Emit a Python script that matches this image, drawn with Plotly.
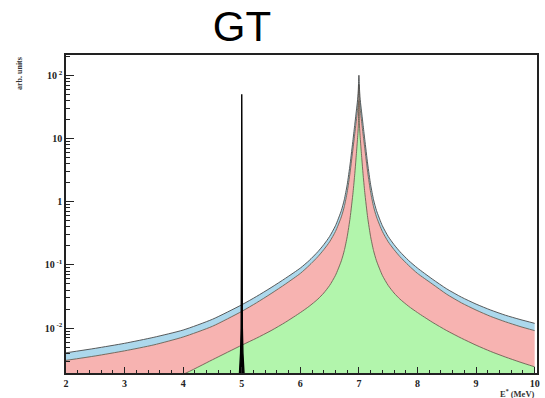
import plotly.graph_objects as go

# ---- data ----
energy = [2.0, 2.5, 3.0, 3.5, 4.0, 4.5, 5.0, 5.25, 5.5, 5.75, 6.0, 6.15, 6.3, 6.4, 6.5, 6.6, 6.7, 6.75, 6.8, 6.85,
          6.9, 6.93, 6.95, 6.97, 6.98, 6.99, 7.0,
          7.01, 7.02, 7.03, 7.05, 7.07, 7.1, 7.15, 7.2, 7.25, 7.3, 7.4, 7.5, 7.6, 7.7, 7.85, 8.0,
          8.25, 8.5, 8.75, 9.0, 9.25, 9.5, 9.75, 10.0]
blue_top = [0.00407, 0.00479, 0.00575, 0.00716, 0.00933, 0.0138, 0.0234, 0.0316, 0.0437, 0.0617, 0.0891, 0.117,
            0.162, 0.209, 0.282, 0.417, 0.724, 1.07, 1.86, 3.94, 9.66, 16.8, 24.3, 35.1, 43.6, 60, 100,
            60, 43.6, 35.1, 24.3, 16.8, 9.66, 3.94, 1.86, 1.07, 0.724, 0.417, 0.282, 0.209, 0.162, 0.117, 0.0891,
            0.06, 0.0417, 0.0309, 0.024, 0.0193, 0.016, 0.0137, 0.0119]
pink_top = [0.00309, 0.00363, 0.00437, 0.00543, 0.00724, 0.0107, 0.0184, 0.0251, 0.0351, 0.0501, 0.0733, 0.0977,
            0.135, 0.174, 0.232, 0.339, 0.575, 0.832, 1.41, 2.92, 7.0, 11.9, 17.2, 24.8, 30.9, 42.7, 70.8,
            42.7, 30.9, 24.8, 17.2, 11.9, 7.0, 2.92, 1.41, 0.832, 0.575, 0.339, 0.232, 0.174, 0.135, 0.0977, 0.0733,
            0.0501, 0.0343, 0.0251, 0.0193, 0.0153, 0.0126, 0.0106, 0.00912]
green_top = [0.0004, 0.0006, 0.00089, 0.00129, 0.00186, 0.00316, 0.00537, 0.00692, 0.00912, 0.01245, 0.0176, 0.0221,
             0.0288, 0.0359, 0.0473, 0.0684, 0.116, 0.168, 0.279, 0.556, 1.40, 2.79, 4.73, 8.22, 11.1, 15.7, 40,
             15.7, 11.1, 8.22, 4.73, 2.79, 1.40, 0.556, 0.279, 0.168, 0.116, 0.0684, 0.0473, 0.0359, 0.0288, 0.0221,
             0.0176, 0.01245, 0.00912, 0.00692, 0.00537, 0.00427, 0.00349, 0.0029, 0.00244]
baseline = [0.0001] * len(energy)

spike_e = [4.955, 4.97, 4.98, 4.99, 4.995, 4.998, 5.0, 5.002, 5.005, 5.01, 5.02, 5.03, 5.045]
spike_v = [0.0015, 0.0025, 0.004, 0.01, 0.05, 0.5, 50, 0.5, 0.05, 0.01, 0.004, 0.0025, 0.0015]
spike_base = [0.0001] * len(spike_e)

x_ticks = [2, 3, 4, 5, 6, 7, 8, 9, 10]
y_tickvals = [0.01, 0.1, 1, 10, 100]
y_ticktext = ["10<sup> -2</sup>", "10<sup> -1</sup>", "1", "10", "10<sup> 2</sup>"]

edge = "#5a5040"
smooth = 0.6
fig = go.Figure()
fig.add_trace(go.Scatter(x=energy, y=baseline, mode="lines", line=dict(width=0), showlegend=False, hoverinfo="skip"))
fig.add_trace(go.Scatter(x=energy, y=green_top, mode="lines", fill="tonexty", fillcolor="#b2f5ac",
                         line=dict(color=edge, width=0.8, shape="spline", smoothing=smooth), showlegend=False))
fig.add_trace(go.Scatter(x=energy, y=pink_top, mode="lines", fill="tonexty", fillcolor="#f7b3b1",
                         line=dict(color=edge, width=0.8, shape="spline", smoothing=smooth), showlegend=False))
fig.add_trace(go.Scatter(x=energy, y=blue_top, mode="lines", fill="tonexty", fillcolor="#acd8ec",
                         line=dict(color="#4a4a4a", width=0.9, shape="spline", smoothing=smooth), showlegend=False))
fig.add_trace(go.Scatter(x=spike_e, y=spike_base, mode="lines", line=dict(width=0), showlegend=False, hoverinfo="skip"))
fig.add_trace(go.Scatter(x=spike_e, y=spike_v, mode="lines", fill="tonexty", fillcolor="black",
                         line=dict(color="black", width=1.4), showlegend=False))

tick_font = dict(family="Liberation Serif", size=10, color="#222", weight="bold")

minor_x = [2 + 0.2 * i for i in range(41)]
minor_y = []
for d in [0.001, 0.01, 0.1, 1, 10, 100]:
    for m in range(2, 10):
        minor_y.append(d * m)

fig.update_layout(
    width=545, height=398,
    margin=dict(l=66, r=5, t=55, b=25),
    paper_bgcolor="white", plot_bgcolor="white",
    title=dict(text="GT", x=242 / 545, xanchor="center", y=1 - 26 / 398, yanchor="middle",
               font=dict(family="Liberation Sans", size=42, color="black")),
    xaxis=dict(range=[2, 10.04], tickvals=x_ticks, ticks="inside", ticklen=6, tickwidth=1, tickcolor="#222",
               showgrid=False, zeroline=False, showline=True, linecolor="#222", linewidth=1.5, mirror=True,
               tickfont=tick_font,
               minor=dict(tickvals=minor_x, ticks="inside", ticklen=3, tickcolor="#222", showgrid=False)),
    yaxis=dict(type="log", range=[-2.71, 2.32], tickvals=y_tickvals, ticktext=y_ticktext,
               ticks="inside", ticklen=8, tickwidth=1, tickcolor="#222",
               showgrid=False, zeroline=False, showline=True, linecolor="#222", linewidth=1.5, mirror=True,
               tickfont=tick_font,
               minor=dict(tickvals=minor_y, ticks="inside", ticklen=4, tickcolor="#222", showgrid=False)),
    annotations=[
        dict(text="arb. units", xref="paper", yref="paper", x=-18 / 474 * 2.6, y=1.0, xanchor="center",
             yanchor="top", textangle=-90, showarrow=False,
             font=dict(family="Liberation Serif", size=8, color="#333", weight="bold")),
        dict(text="E<sup>*</sup> (MeV)", xref="paper", yref="paper", x=1.0, y=-20 / 318, xanchor="right",
             yanchor="middle", showarrow=False,
             font=dict(family="Liberation Serif", size=8.5, color="#333", weight="bold")),
    ],
)

fig.write_html("out.html")
